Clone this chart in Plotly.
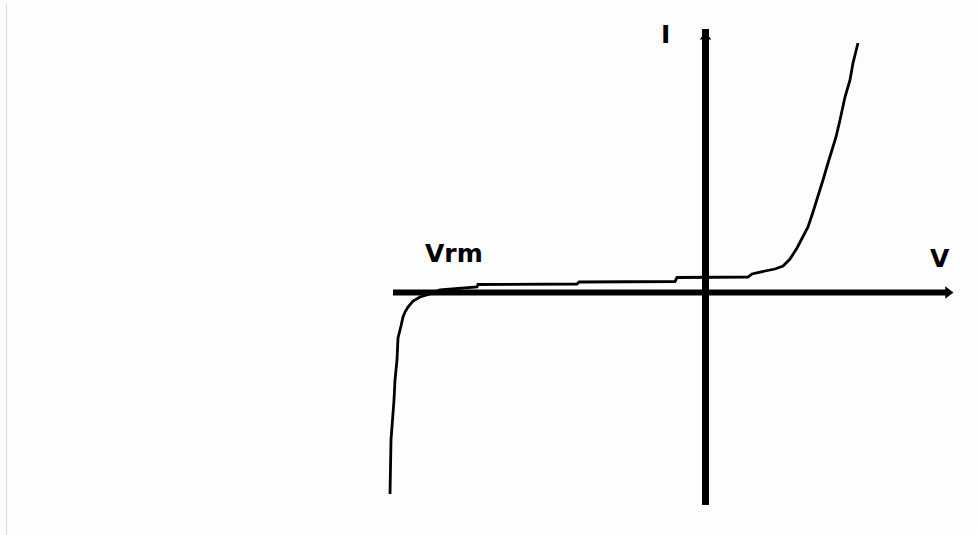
import plotly.graph_objects as go

# Diode I-V characteristic (arbitrary units): reverse breakdown, leakage, forward conduction
volts = [-31.6, -31.55, -31.5, -31.2, -31.1, -30.9, -30.8, -30.5, -30.3, -30.1,
         -29.8, -29.3, -28.6, -27.6, -26.6, -22.9, -22.8, -12.9, -12.7, -3.1,
         -2.9, 4.2, 4.6, 5.9, 6.9, 7.7, 8.4, 9.1, 9.7, 10.2,
         10.7, 11.2, 11.7, 12.2, 12.6, 13.0, 13.4, 13.9, 14.4, 14.7,
         15.1, 15.2]
current = [-20.1, -16.4, -14.7, -10.7, -8.7, -6.7, -4.5, -3.3, -2.4, -1.9,
           -1.4, -0.8, -0.4, -0.1, 0.3, 0.6, 0.85, 0.9, 1.1, 1.15,
           1.55, 1.6, 1.9, 2.2, 2.4, 2.7, 3.4, 4.5, 5.6, 6.6,
           8.1, 9.6, 11.3, 13.0, 14.3, 15.6, 17.3, 19.6, 21.3, 23.0,
           24.6, 25.0]

# Axis extents
v_axis = [-31.3, 24.2]
i_axis = [-21.2, 26.4]

fig = go.Figure()

# Coordinate axes
fig.add_trace(go.Scatter(x=v_axis, y=[0.05, 0.05], mode="lines",
                         line=dict(color="black", width=6), hoverinfo="skip"))
fig.add_trace(go.Scatter(x=[-0.05, -0.05], y=i_axis, mode="lines",
                         line=dict(color="black", width=7), hoverinfo="skip"))
fig.add_trace(go.Scatter(x=[v_axis[1]], y=[0.05], mode="markers",
                         marker=dict(symbol="triangle-right", size=11, color="black"),
                         hoverinfo="skip"))
fig.add_trace(go.Scatter(x=[-0.05], y=[i_axis[1] - 0.8], mode="markers",
                         marker=dict(symbol="triangle-up", size=10, color="black"),
                         hoverinfo="skip"))

# Characteristic curve
fig.add_trace(go.Scatter(x=volts, y=current, mode="lines",
                         line=dict(color="black", width=2.8, shape="linear"),
                         hoverinfo="skip"))

label_font = dict(family="DejaVu Sans", size=25, color="black", weight="bold")
fig.add_annotation(x=-4.1, y=25.9, text="I", showarrow=False, font=label_font)
fig.add_annotation(x=23.4, y=3.5, text="V", showarrow=False, font=label_font)
fig.add_annotation(x=-25.2, y=4.0, text="Vrm", showarrow=False, font=label_font)

# Faint rule along the left edge
fig.add_shape(type="line", xref="paper", yref="paper", x0=6.5 / 977, x1=6.5 / 977,
              y0=0, y1=1 - 4 / 535, line=dict(color="#dcdcdc", width=1))

fig.update_layout(
    width=977, height=535, autosize=False,
    margin=dict(l=0, r=0, t=0, b=0),
    paper_bgcolor="#fdfdfd", plot_bgcolor="#fdfdfd",
    showlegend=False,
    xaxis=dict(range=[-70.6, 27.1], visible=False, fixedrange=True),
    yaxis=dict(range=[-24.2, 29.3], visible=False, fixedrange=True),
)

fig.write_html("out.html", config={"displayModeBar": False})
